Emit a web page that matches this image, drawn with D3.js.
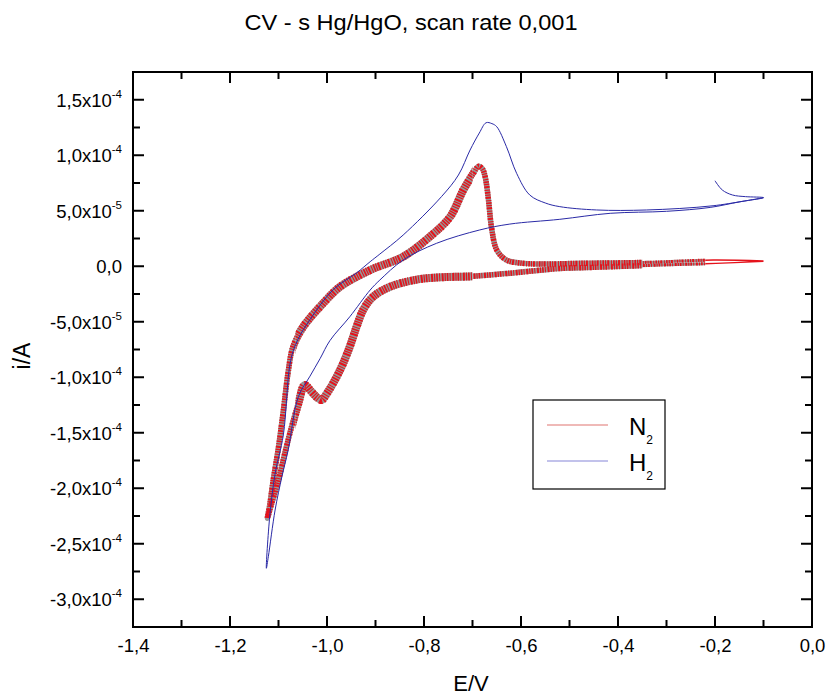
<!DOCTYPE html>
<html><head><meta charset="utf-8">
<script src="https://cdn.jsdelivr.net/npm/d3@7"></script>
<style>
body{margin:0;background:#fff}
svg{display:block}
text{font-family:"Liberation Sans",Arial,sans-serif;fill:#000}
</style>
</head><body>
<svg id="chart" width="827" height="698"></svg>
<script>
// ---------- data ----------
const chartTitle = "CV - s Hg/HgO, scan rate 0,001";
const xLabel = "E/V";
const yLabel = "i/A";
const xTicks = [-1.4, -1.2, -1.0, -0.8, -0.6, -0.4, -0.2, 0.0];
const xTickLabels = ["-1,4", "-1,2", "-1,0", "-0,8", "-0,6", "-0,4", "-0,2", "0,0"];
const xMinorTicks = [-1.3, -1.1, -0.9, -0.7, -0.5, -0.3, -0.1];
const yTicks = [1.5e-4, 1.0e-4, 5e-5, 0, -5e-5, -1e-4, -1.5e-4, -2e-4, -2.5e-4, -3e-4];
const yTickMantissa = ["1,5x10", "1,0x10", "5,0x10", "0,0", "-5,0x10", "-1,0x10", "-1,5x10", "-2,0x10", "-2,5x10", "-3,0x10"];
const yTickExponent = ["-4", "-4", "-5", "", "-5", "-4", "-4", "-4", "-4", "-4"];
const yMinorTicks = [1.25e-4, 7.5e-5, 2.5e-5, -2.5e-5, -7.5e-5, -1.25e-4, -1.75e-4, -2.25e-4, -2.75e-4];
const seriesNames = ["N", "H"];      // subscript "2" added in legend
const seriesSub = ["2", "2"];

// N2 : potential (V) and current (units of 1e-4 A), in scan order
const n2Potential = [-0.100,-0.198,-0.313,-0.451,-0.520,-0.616,-0.700,-0.767,-0.815,-0.870,-0.905,-0.925,-0.939,-0.953,-0.973,-1.000,-1.011,-1.021,-1.032,-1.046,-1.059,-1.073,-1.087,-1.100,-1.114,-1.123,
  -1.118,-1.111,-1.100,-1.090,-1.080,-1.070,-1.049,-1.008,-0.973,-0.911,-0.843,-0.788,-0.746,-0.719,-0.698,-0.688,-0.680,-0.674,-0.667,-0.661,-0.650,-0.630,-0.600,-0.560,-0.478,-0.341,-0.204,-0.100];
const n2Current = [0.045,0.026,0.011,-0.010,-0.020,-0.060,-0.090,-0.100,-0.120,-0.185,-0.275,-0.390,-0.545,-0.725,-0.935,-1.145,-1.205,-1.180,-1.130,-1.070,-1.235,-1.446,-1.685,-1.926,-2.136,-2.270,
  -2.150,-1.930,-1.630,-1.300,-0.950,-0.720,-0.545,-0.334,-0.184,-0.034,0.086,0.266,0.446,0.687,0.837,0.900,0.880,0.807,0.597,0.356,0.146,0.056,0.028,0.020,0.026,0.035,0.056,0.047];

// H2 : potential (V) and current (units of 1e-4 A), in scan order
const h2Potential = [-0.200,-0.185,-0.164,-0.137,-0.100,-0.150,-0.210,-0.300,-0.416,-0.520,-0.623,-0.685,-0.774,-0.843,-0.891,-0.911,-0.953,-0.994,-1.014,-1.035,-1.059,-1.080,-1.093,-1.107,-1.121,-1.125,
  -1.118,-1.107,-1.090,-1.075,-1.060,-1.035,-0.987,-0.939,-0.911,-0.891,-0.843,-0.764,-0.729,-0.705,-0.686,-0.672,-0.660,-0.650,-0.630,-0.609,-0.582,-0.550,-0.520,-0.444,-0.341,-0.204,-0.100];
const h2Current = [0.770,0.687,0.642,0.627,0.618,0.580,0.530,0.495,0.477,0.423,0.380,0.327,0.207,0.056,-0.124,-0.214,-0.455,-0.670,-0.830,-0.990,-1.175,-1.655,-1.896,-2.196,-2.617,-2.721,
  -2.250,-1.870,-1.520,-0.850,-0.660,-0.480,-0.210,-0.060,0.041,0.110,0.281,0.627,0.822,1.047,1.200,1.293,1.285,1.257,1.077,0.837,0.642,0.570,0.537,0.507,0.507,0.545,0.618];

// ---------- layout ----------
const plot = {left: 133, right: 812, top: 72, bottom: 627};
const svg = d3.select("#chart");

const x = d3.scaleLinear().domain([-1.4, 0]).range([plot.left, plot.right]);
const y = d3.scaleLinear().domain([-3.25e-4, 1.75e-4]).range([plot.bottom, plot.top]);

const n2 = n2Potential.map((e, i) => ({e, i: n2Current[i] * 1e-4}));
const h2 = h2Potential.map((e, i) => ({e, i: h2Current[i] * 1e-4}));

const line = d3.line().x(d => x(d.e)).y(d => y(d.i)).curve(d3.curveCatmullRom.alpha(0.5));

const defs = svg.append("defs");
defs.append("clipPath").attr("id", "plotClip").append("rect")
  .attr("x", plot.left).attr("y", plot.top)
  .attr("width", plot.right - plot.left).attr("height", plot.bottom - plot.top);

// N2 noisy band: stroke width varies with potential (style only)
const bandStyle = [
  {from: -1.4, to: -1.065, w: 5.5},
  {from: -1.065, to: -0.70, w: 8},
  {from: -0.70, to: -0.35, w: 5.5},
  {from: -0.35, to: -0.22, w: 3},
  {from: -0.22, to: 0.0, w: 1.4}
];
const gPlot = svg.append("g").attr("clip-path", "url(#plotClip)");
bandStyle.forEach((b, k) => {
  const id = "band" + k;
  defs.append("clipPath").attr("id", id).append("rect")
    .attr("x", x(b.from)).attr("y", plot.top)
    .attr("width", x(b.to) - x(b.from)).attr("height", plot.bottom - plot.top);
  const g = gPlot.append("g").attr("clip-path", `url(#${id})`);
  g.append("path").datum(n2).attr("d", line)
    .attr("fill", "none").attr("stroke", "#8c8c8c").attr("stroke-width", b.w)
    .attr("stroke-linejoin", "round").attr("opacity", b.w > 2 ? 0.9 : 0);
  g.append("path").datum(n2).attr("d", line)
    .attr("fill", "none").attr("stroke", "#e5121b").attr("stroke-width", b.w)
    .attr("stroke-dasharray", b.w > 2 ? "1.2,1,2,1.6,1,1.2,1.6,1" : null);
});

// H2 line
gPlot.append("path").datum(h2).attr("d", line)
  .attr("fill", "none").attr("stroke", "#2a2aa6").attr("stroke-width", 1);

// ---------- axes ----------
const majorLen = 11, minorLen = 7;
const tickFont = 18.5;
function stripAxis(g) {
  g.select(".domain").remove();
  g.selectAll(".tick line").remove();
}
// bottom labels
svg.append("g").attr("transform", `translate(0,${plot.bottom})`)
  .call(d3.axisBottom(x).tickValues(xTicks).tickSize(0).tickPadding(12)
    .tickFormat((d, i) => xTickLabels[i]))
  .call(stripAxis)
  .call(g => g.selectAll(".tick text").attr("font-size", tickFont).attr("fill", "#000")
    .attr("font-family", '"Liberation Sans",Arial,sans-serif'));
// left labels
svg.append("g").attr("transform", `translate(${plot.left},0)`)
  .call(d3.axisLeft(y).tickValues(yTicks).tickSize(0).tickPadding(11).tickFormat(""))
  .call(stripAxis)
  .call(g => g.selectAll(".tick text").each(function(d, i) {
    const t = d3.select(this)
      .attr("font-size", tickFont).attr("fill", "#000")
      .attr("font-family", '"Liberation Sans",Arial,sans-serif')
      .attr("dy", "0.36em");
    t.text(null);
    t.append("tspan").text(yTickMantissa[i]);
    if (yTickExponent[i]) {
      t.append("tspan").attr("font-size", 11.5).attr("dy", "-0.8em").text(yTickExponent[i]);
    }
  }));

// inward tick marks on all four sides
const tg = svg.append("g");
function addTick(x1, y1, x2, y2) {
  tg.append("line").attr("x1", x1).attr("y1", y1).attr("x2", x2).attr("y2", y2)
    .attr("stroke", "#000").attr("stroke-width", 2);
}
function xTickMarks(vals, len) {
  vals.forEach(v => {
    addTick(x(v), plot.bottom, x(v), plot.bottom - len);
    addTick(x(v), plot.top, x(v), plot.top + len);
  });
}
function yTickMarks(vals, len) {
  vals.forEach(v => {
    addTick(plot.left, y(v), plot.left + len, y(v));
    addTick(plot.right, y(v), plot.right - len, y(v));
  });
}
xTickMarks(xTicks, majorLen);
xTickMarks(xMinorTicks, minorLen);
yTickMarks(yTicks, majorLen);
yTickMarks(yMinorTicks, minorLen);

// frame
svg.append("rect").attr("x", plot.left).attr("y", plot.top)
  .attr("width", plot.right - plot.left).attr("height", plot.bottom - plot.top)
  .attr("fill", "none").attr("stroke", "#000").attr("stroke-width", 2);

// ---------- titles ----------
svg.append("text").attr("x", 411).attr("y", 30).attr("text-anchor", "middle")
  .attr("font-size", 22).attr("textLength", 333).attr("lengthAdjust", "spacingAndGlyphs")
  .text(chartTitle);
svg.append("text").attr("x", 471).attr("y", 691)
  .attr("text-anchor", "middle").attr("font-size", 22).text(xLabel);
svg.append("text").attr("transform", `translate(30,356) rotate(-90)`)
  .attr("text-anchor", "middle").attr("font-size", 23).text(yLabel);

// ---------- legend ----------
const lg = svg.append("g");
lg.append("rect").attr("x", 533).attr("y", 400).attr("width", 132).attr("height", 89)
  .attr("fill", "#fff").attr("stroke", "#000").attr("stroke-width", 1.2);
const legendColors = ["#d9534f", "#6b6bd0"];
seriesNames.forEach((name, k) => {
  const ly = 425 + k * 36;
  lg.append("line").attr("x1", 547).attr("x2", 608).attr("y1", ly).attr("y2", ly)
    .attr("stroke", legendColors[k]).attr("stroke-width", 1.2).attr("opacity", 0.8);
  const t = lg.append("text").attr("x", 629).attr("y", ly + 10).attr("font-size", 24);
  t.append("tspan").text(name);
  t.append("tspan").attr("font-size", 12).attr("dy", 9).text(seriesSub[k]);
});
</script>
</body></html>
